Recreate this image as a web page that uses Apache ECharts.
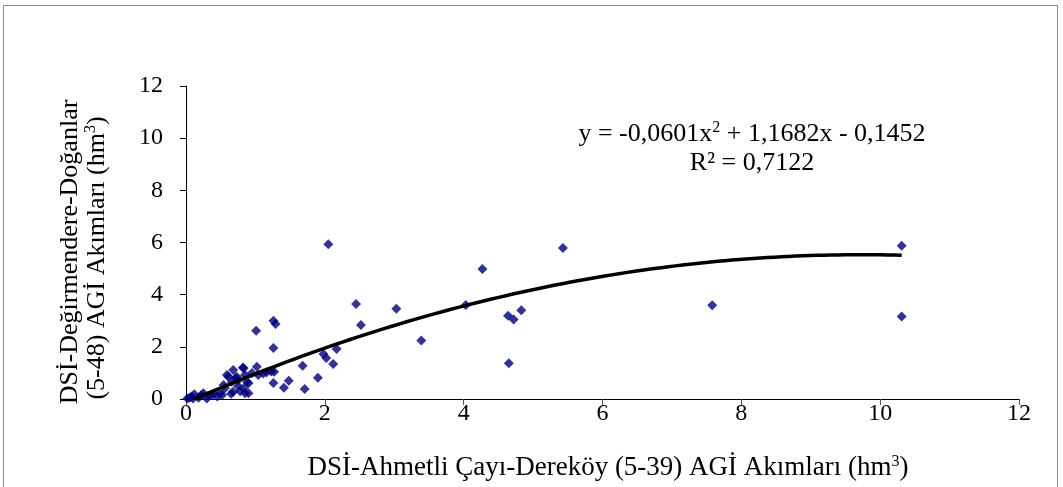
<!DOCTYPE html>
<html><head><meta charset="utf-8">
<script src="https://cdn.jsdelivr.net/npm/echarts@6/dist/echarts.min.js"></script>
<style>html,body{margin:0;padding:0;background:#fff}#c{width:1063px;height:487px}</style>
</head><body><div id="c"></div>
<script>
const xValues = [0.02,0.05,0.08,0.12,0.10,0.18,0.22,0.25,0.30,0.32,0.37,0.40,0.45,0.49,0.52,0.54,0.56,0.59,0.61,0.65,0.66,0.68,0.68,0.72,0.73,0.75,0.75,0.78,0.82,0.83,0.83,0.85,0.85,0.88,0.90,0.90,0.95,1.01,1.02,1.04,1.11,1.16,1.23,1.26,1.26,1.26,1.29,1.27,1.41,1.48,1.68,1.71,1.90,1.98,2.02,2.05,2.12,2.17,2.45,2.52,3.03,3.39,4.03,4.27,4.64,4.65,4.72,4.83,5.43,7.58,10.31,10.31];
const yValues = [0.02,0.05,0.10,0.18,0.02,0.05,0.15,0.22,0.02,0.12,0.15,0.20,0.10,0.22,0.15,0.54,0.41,0.92,0.86,0.20,0.66,1.11,0.28,0.80,0.85,0.50,0.73,0.30,1.21,0.41,1.18,0.92,0.22,0.65,0.60,0.22,1.00,2.62,1.24,0.92,0.98,1.02,1.05,1.96,3.00,0.61,2.88,1.04,0.43,0.70,1.27,0.38,0.81,1.73,1.57,5.93,1.34,1.92,3.64,2.84,3.46,2.24,3.60,4.98,3.19,1.37,3.05,3.40,5.79,3.59,5.88,3.16];
const trendCoef = [-0.0601, 1.1682, -0.1452];
const trendRange = [0.125, 10.31];
const xTicks = [0,2,4,6,8,10,12];
const yTicks = [0,2,4,6,8,10,12];

const pts = xValues.map((x,i)=>[x,yValues[i]]);
const trend = [];
for (let k=0;k<=100;k++){const x=trendRange[0]+(trendRange[1]-trendRange[0])*k/100;trend.push([x,trendCoef[0]*x*x+trendCoef[1]*x+trendCoef[2]]);}
const font = '"Liberation Serif","Times New Roman",serif';
const sup = {s:{fontSize:16,padding:[0,0,12,0],fontFamily:font,color:'#000'}};
const chart = echarts.init(document.getElementById('c'));
chart.setOption({
  animation:false,
  grid:{left:186,right:44,top:86,bottom:88},
  xAxis:{type:'value',min:xTicks[0],max:xTicks[xTicks.length-1],interval:2,
    axisLine:{show:true,onZero:false,lineStyle:{color:'#000',width:1}},
    axisTick:{show:true,length:6,lineStyle:{color:'#555'}},
    splitLine:{show:false},
    axisLabel:{margin:3,fontFamily:font,fontSize:24,color:'#000'}},
  yAxis:{type:'value',min:yTicks[0],max:yTicks[yTicks.length-1],interval:2,
    axisLine:{show:true,lineStyle:{color:'#000',width:1}},
    axisTick:{show:true,length:6,lineStyle:{color:'#000'}},
    splitLine:{show:false},
    axisLabel:{margin:23,fontFamily:font,fontSize:24,color:'#000'}},
  series:[
    {type:'scatter',data:pts,symbol:'diamond',symbolSize:10,itemStyle:{color:'#00007a'},z:3},
    {type:'line',data:trend,showSymbol:false,smooth:false,lineStyle:{color:'#000',width:3.5},z:4}
  ],
  graphic:[
    {type:'rect',shape:{x:3.5,y:5.5,width:1054,height:520},style:{fill:'none',stroke:'#888',lineWidth:1},silent:true},
    {type:'text',x:752,y:134,style:{text:'y = -0,0601x{s|2} + 1,1682x - 0,1452',font:'26px '+font,fill:'#000',align:'center',verticalAlign:'middle',rich:sup}},
    {type:'text',x:752,y:163,style:{text:'R² = 0,7122',font:'26px '+font,fill:'#000',align:'center',verticalAlign:'middle'}},
    {type:'text',x:608,y:468,style:{text:'DSİ-Ahmetli Çayı-Dereköy (5-39) AGİ Akımları (hm{s|3})',font:'27px '+font,fill:'#000',align:'center',verticalAlign:'middle',rich:sup}},
    {type:'text',x:70,y:252,rotation:Math.PI/2,style:{text:'DSİ-Değirmendere-Doğanlar',font:'26px '+font,fill:'#000',align:'center',verticalAlign:'middle'}},
    {type:'text',x:97,y:258,rotation:Math.PI/2,style:{text:'(5-48) AGİ Akımları (hm{s|3})',font:'26px '+font,fill:'#000',align:'center',verticalAlign:'middle',rich:sup}}
  ]
});
</script></body></html>
